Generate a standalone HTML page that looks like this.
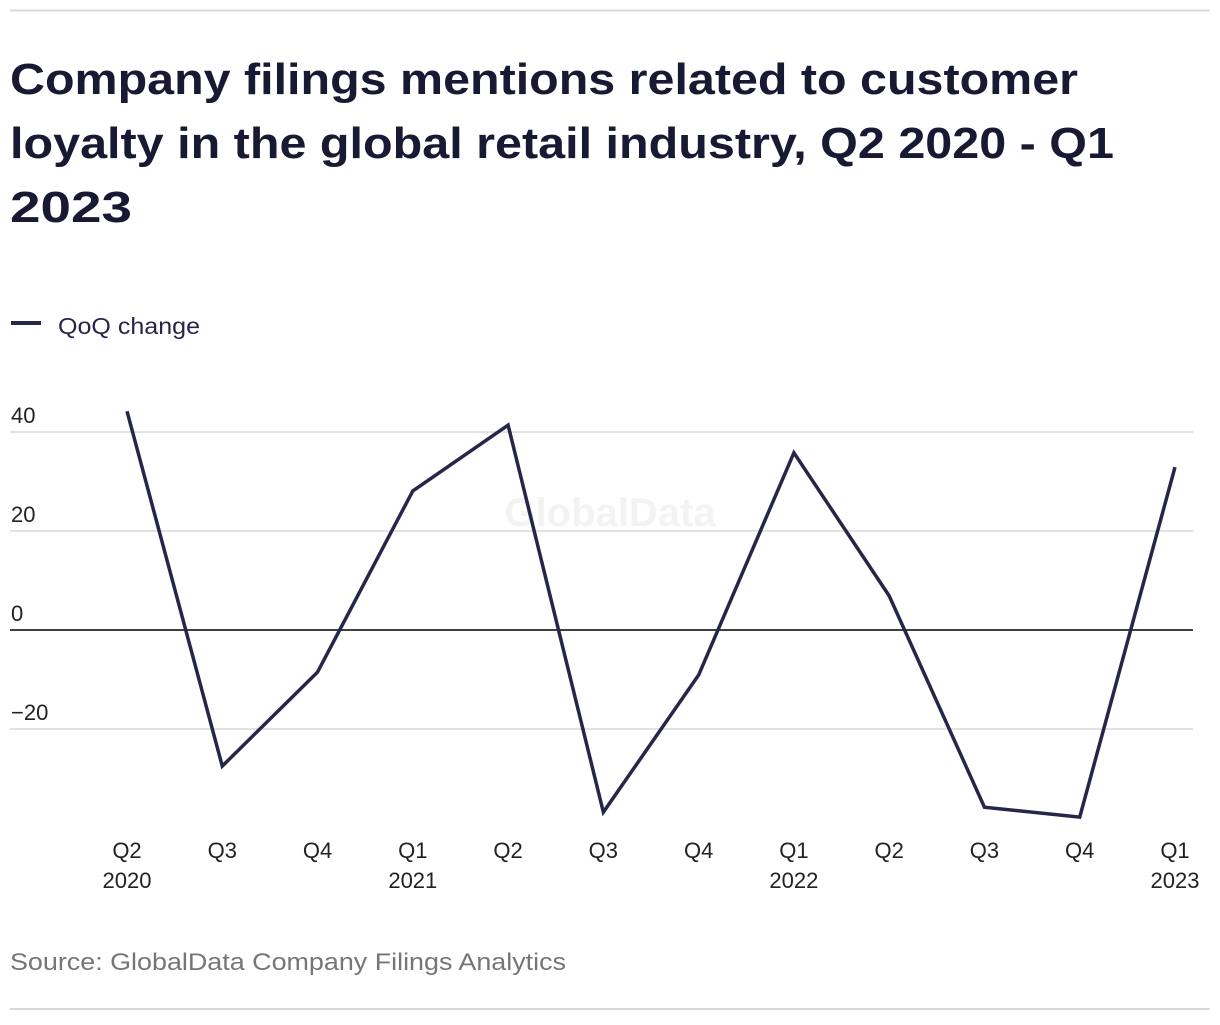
<!DOCTYPE html>
<html><head><meta charset="utf-8"><style>
body{margin:0;background:#fff;}
svg text{font-family:"Liberation Sans",sans-serif;}
</style></head><body>
<svg width="1220" height="1020" viewBox="0 0 1220 1020">
<line x1="10" y1="10.5" x2="1210" y2="10.5" stroke="#d9d9d9" stroke-width="2"/>
<g fill="#181a33" font-weight="bold" font-size="44">
<text x="10" y="94" textLength="1068" lengthAdjust="spacingAndGlyphs">Company filings mentions related to customer</text>
<text x="10" y="158" textLength="1104" lengthAdjust="spacingAndGlyphs">loyalty in the global retail industry, Q2 2020 - Q1</text>
<text x="10" y="222" textLength="122" lengthAdjust="spacingAndGlyphs">2023</text>
</g>
<g>
<line x1="11" y1="323" x2="41" y2="323" stroke="#25264a" stroke-width="4"/>
<text x="58" y="334" font-size="23" fill="#25264a" textLength="142" lengthAdjust="spacingAndGlyphs">QoQ change</text>
</g>
<text x="610" y="526" font-size="40" font-weight="bold" fill="#f3f3f3" text-anchor="middle">GlobalData</text>
<g id="grid"></g>
<g id="xaxis"></g>
<path id="line" fill="none" stroke="#25264a" stroke-width="3.5" stroke-linejoin="miter"/>
<text x="10" y="970" font-size="24" fill="#767676" textLength="556" lengthAdjust="spacingAndGlyphs">Source: GlobalData Company Filings Analytics</text>
<line x1="10" y1="1009" x2="1210" y2="1009" stroke="#d9d9d9" stroke-width="2"/>
</svg>
<script>
const quarters=["Q2","Q3","Q4","Q1","Q2","Q3","Q4","Q1","Q2","Q3","Q4","Q1"];
const years=["2020","","","2021","","","","2022","","","","2023"];
const values=[44.2,-27.5,-8.5,28.1,41.4,-36.8,-9.1,35.8,6.9,-35.8,-37.8,32.9];
const yTicks=[-20,0,20,40];
const yTickLabels=["\u221220","0","20","40"];
const NS="http://www.w3.org/2000/svg";
function y(v){return 630-v*4.95;}
function x(i){return 127+i*(1175-127)/(values.length-1);}
const grid=document.getElementById('grid');
yTicks.forEach((t,k)=>{
 const l=document.createElementNS(NS,'line');
 l.setAttribute('x1',10);l.setAttribute('x2',1193);
 l.setAttribute('y1',y(t));l.setAttribute('y2',y(t));
 l.setAttribute('stroke',t===0?'#000':'#d9d9d9');l.setAttribute('stroke-width',t===0?1.5:1.5);
 
 
 grid.appendChild(l);
 const tx=document.createElementNS(NS,'text');
 tx.setAttribute('x',11);tx.setAttribute('y',y(t)-9);
 tx.setAttribute('font-size','22');tx.setAttribute('fill','#222');
 tx.textContent=yTickLabels[k];
 
 
 grid.appendChild(tx);
});
const xa=document.getElementById('xaxis');
quarters.forEach((q,i)=>{
 const t=document.createElementNS(NS,'text');
 t.setAttribute('x',x(i));t.setAttribute('y',858);t.setAttribute('text-anchor','middle');
 t.setAttribute('font-size','22');t.setAttribute('fill','#222');
 t.textContent=q;
 
 
 xa.appendChild(t);
 if(years[i]){
  const t2=document.createElementNS(NS,'text');
  t2.setAttribute('x',x(i));t2.setAttribute('y',888);t2.setAttribute('text-anchor','middle');
  t2.setAttribute('font-size','22');t2.setAttribute('fill','#222');
  t2.textContent=years[i];
  
  
  xa.appendChild(t2);
 }
});
document.getElementById('line').setAttribute('d',values.map((v,i)=>(i?'L':'M')+x(i)+','+y(v)).join(' '));
</script>
</body></html>
